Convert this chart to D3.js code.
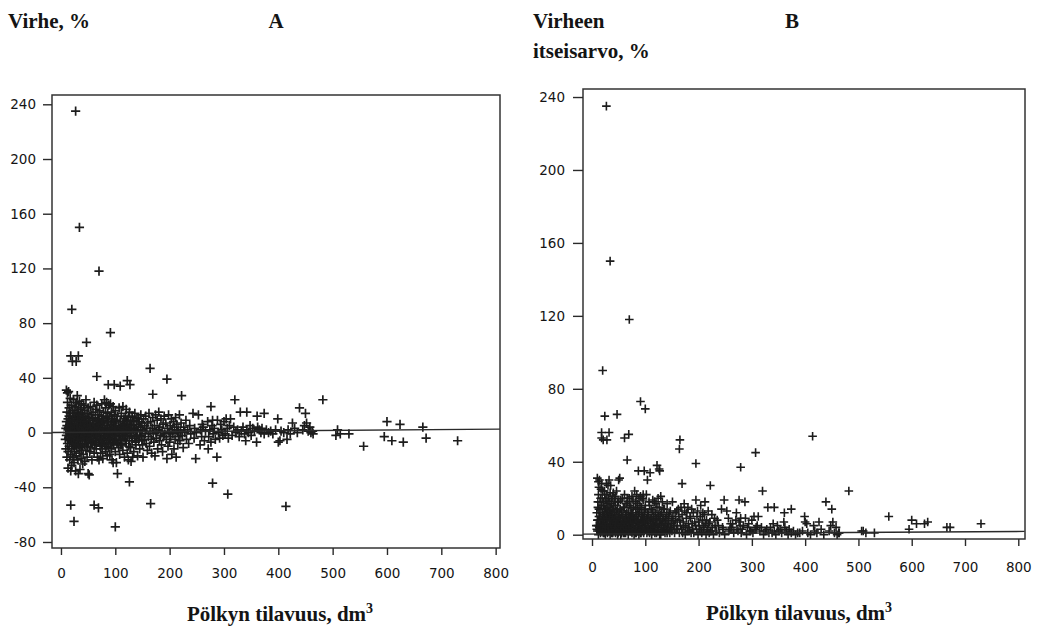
<!DOCTYPE html>
<html><head><meta charset="utf-8">
<script src="https://cdn.jsdelivr.net/npm/d3@7"></script>
<style>body{margin:0;background:#fff}svg{display:block}</style>
</head><body><svg id="chart" width="1051" height="626"></svg>
<script>
// ---------- DATA ----------
const xTickValues = [0, 100, 200, 300, 400, 500, 600, 700, 800];
const yTickValuesA = [-80, -40, 0, 40, 80, 120, 160, 200, 240];
const yTickValuesB = [0, 40, 80, 120, 160, 200, 240];

// [log volume dm3, error %]  (panel B shows the absolute value of the error)
const outliers = [
[27,235],[34,150],[70,118],[20,90],[91,73],[100,-69],[47,66],[24,-65],
[18,56],[21,52],[28,52],[32,56],[18,-53],[61,-53],[69,-55],
[66,41],[87,35],[98,35],[109,34],[104,-30],[122,38],[127,35],
[164,47],[165,-52],[169,28],[195,39],[222,27],[320,24],[482,24],
[279,-37],[307,-45],[414,-54],[126,-36],[276,19],[330,15],[342,15],[361,12],[374,14],[399,10],
[439,18],[450,14],[426,7],[452,7],[458,4],[463,1],[464,-1],[416,-5],[403,-6],
[509,2],[506,-2],[514,-1],[530,-1],[557,-10],[600,8],[624,6],[666,4],[595,-3],[609,-6],[630,-7],[672,-4],[730,-6]
];
const clusterSmall = [
[8,-5],[9,3],[9,-12],[10,8],[10,-2],[10,31],[11,15],[11,-18],[11,5],[12,-8],[12,29],[12,0],[12,22],[13,-14],[13,10],[13,-26],[14,4],[14,-4],[14,30],[15,18],[15,-10],[15,12],[16,-1],[16,-20],[16,7],[17,25],[17,-6],[17,14],[18,-16],[18,2],[18,-28],[19,9],[19,-3],[19,20],[20,-12],[20,6],[20,-24],[21,16],[21,-7],[21,1],[22,11],[22,-18],[22,-2],[23,24],[23,4],[23,-10],[24,-5],[24,14],[24,-22],[25,8],[25,-14],[25,0],[26,19],[26,-8],[26,3],[27,-28],[27,12],[27,-3],[28,6],[28,-17],[28,22],[29,-1],[29,9],[29,-11],[30,15],[30,-6],[30,27],[31,2],[31,-20],[31,10],[32,-9],[32,18],[32,-30],[33,5],[33,-4],[33,13],[34,-15],[34,0],[34,23],[35,8],[35,-11],[35,-27],[36,3],[36,17],[36,-6],[37,-19],[37,11],[37,-1],[38,6],[38,21],[38,-13],[39,-4],[39,14],[39,1],[40,-8],[40,9],[40,-23]
];
const clusterCore = [
[13,2],[15,-3],[17,5],[19,-8],[21,9],[23,-1],[25,4],[27,-9],[29,6],[31,-2],[33,8],[35,-5],[37,2],[39,-10],[41,7],[43,-2],[45,3],[47,-8],[49,1],[51,5],[53,-3],[55,1],[57,-7],[59,6],[61,-1],[63,4],[65,-9],[67,2],[69,9],[71,-5],[73,7],[75,-8],[77,10],[79,-3],[81,1],[83,-10],[85,8],[87,-4],[89,3],[91,-1],[93,8],[95,-7],[97,1],[99,9],[101,5],[103,-8],[105,2],[107,-3],[109,-9],[111,4],[113,-2],[115,8],[117,5],[119,-6],[121,9],[123,4],[125,-10],[127,6],[129,0],[131,-6],[133,8],[135,3],[137,-7],[139,-3],[141,1],[143,10],[145,-2],[147,4],[149,-6]
];
const clusterMid = [
[41,4],[41,-16],[42,12],[42,-3],[42,20],[43,-9],[43,7],[44,-1],[44,16],[44,-21],[45,10],[45,-6],[46,2],[46,-13],[46,24],[47,-4],[47,8],[48,14],[48,-18],[48,0],[49,-10],[49,5],[50,-30],[50,18],[50,-2],[51,11],[51,-7],[52,-31],[52,3],[53,-14],[53,9],[54,0],[54,-5],[54,19],[55,6],[55,-11],[56,13],[56,-2],[57,-20],[57,4],[58,10],[58,-8],[59,1],[59,15],[60,-4],[60,7],[61,-15],[61,22],[62,2],[62,-9],[63,11],[63,-1],[64,-6],[64,17],[65,5],[65,-12],[66,20],[66,-3],[67,8],[67,-18],[68,0],[68,13],[69,-7],[69,4],[70,-20],[70,10],[71,-2],[71,16],[72,6],[72,-10],[73,-15],[73,2],[74,12],[74,-4],[75,-1],[75,21],[76,7],[76,-12],[77,3],[77,-19],[78,15],[78,-6],[79,0],[79,9],[80,-9],[80,24],[81,5],[81,-3],[82,18],[82,-14],[83,1],[83,11],[84,-7],[84,22],[85,4],[85,-17],[86,14],[86,-2],[87,8],[87,-11],[88,20],[88,0],[89,-5],[89,12],[90,2],[90,-16],[91,21],[91,-8],[92,6],[92,-1],[93,-12],[93,15],[94,3],[94,-20],[95,10],[95,-4],[96,19],[96,-22],[97,-9],[97,7],[98,13],[98,-2],[99,-6],[99,4],[100,16],[100,-14]
];
const clusterUpper = [
[101,-3],[102,9],[102,-22],[103,1],[104,12],[105,-7],[106,5],[106,-11],[107,18],[108,-1],[108,-16],[109,8],[110,-5],[110,3],[111,14],[112,-9],[112,0],[113,6],[114,-13],[114,19],[115,2],[116,-4],[116,10],[117,-18],[118,4],[118,-1],[119,12],[120,-8],[120,17],[121,1],[122,-15],[122,7],[123,-3],[124,11],[124,-20],[125,3],[126,-6],[126,15],[127,0],[128,-11],[128,8],[129,-21],[130,5],[130,-2],[131,12],[132,-18],[133,2],[134,-14],[134,9],[135,-4],[136,14],[137,1],[138,-9],[139,6],[140,-2],[140,11],[141,-17],[142,4],[143,-6],[144,8],[145,-12],[146,1],[147,13],[148,-3],[149,7],[150,-9],[150,2],[151,-18],[152,10],[153,-5],[154,5],[155,-1],[156,12],[157,-8],[158,3],[159,-13],[160,7],
[161,-3],[162,14],[163,-10],[164,1],[165,8],[166,-5],[167,-15],[168,3],[169,11],[170,-1],[171,-7],[172,5],[173,-17],[174,13],[175,0],[176,-4],[177,9],[178,-12],[179,2],[180,15],[181,-6],[182,4],[183,-2],[184,10],[185,-9],[186,1],[187,-14],[188,6],[189,-3],[190,12],[191,-1],[195,-19],[193,7],[194,-5],[196,3],[197,-10],[198,13],[199,0],[200,-7],[201,5],[202,-3],[203,10],[204,-16],[205,2],[206,-1],[207,8],[208,-12],[209,4],[210,-5],[211,11],[212,-18],[213,6],[214,0],[215,-8],[216,2],[217,-3],[218,13],[219,-6],[220,1],[221,7],[223,-2],[225,-11],[226,4],[228,0],[230,9],[231,-5],[233,2],[235,-8],[237,5],[239,-1],[243,14],[245,-4],[246,3],[248,-19],[249,0],[253,13],[256,-9],[257,2],[259,-3],[260,6]
];
const clusterTail = [
[262,4],[264,-6],[266,1],[271,-12],[270,8],[272,-3],[274,2],[276,-7],[278,5],[280,-1],[279,9],[282,3],[284,-5],[287,-18],[288,9],[290,0],[292,-4],[294,6],[296,2],[298,-2],[300,8],[302,-1],[304,10],[306,3],[308,-4],[310,5],[312,10],[315,-2],[318,4],[322,0],[325,2],[328,-3],[332,1],[335,4],[338,-1],[340,-6],[342,2],[345,0],[348,5],[350,-2],[353,3],[356,1],[360,-7],[362,4],[365,2],[368,0],[370,3],[374,-1],[378,2],[382,0],[386,1],[390,-1],[395,2],[400,-7],[405,1],[410,0],[418,2],[422,-1],[430,3],[435,0],[445,2],[448,5],[455,1],[460,0]
];
// fitted mean-error lines [volume, %]
const fitLineA = [[-16.5, 0.0], [808, 2.5]];
const fitLineB = [[-17, 0.3], [812, 1.8]];

const observations = outliers.concat(clusterSmall, clusterCore, clusterMid, clusterUpper, clusterTail);

// ---------- LAYOUT ----------
const svg = d3.select("#chart");
const serif = "'Liberation Serif','Times New Roman',serif";
const sans = "'DejaVu Sans',sans-serif";
const ink = "#141414";

const panels = [
  { key:"A", left:52, right:500, top:95, bottom:548, xDomain:[-16.5,808], yDomain:[-84.4,246.8],
    yTicks:yTickValuesA, yTickSize:9, yPad:7, xTickSize:7, xPad:13, marker:4.6, mw:1.7,
    values: observations.map(d => [d[0], d[1]]), fit: fitLineA,
    titleX:280, titleY:621 },
  { key:"B", left:583, right:1025, top:89, bottom:539, xDomain:[-16.9,812.6], yDomain:[-2.36,244.4],
    yTicks:yTickValuesB, yTickSize:10, yPad:8, xTickSize:7, xPad:16, marker:4.3, mw:1.6,
    values: observations.map(d => [d[0], Math.abs(d[1])]), fit: fitLineB,
    titleX:799, titleY:620 }
];

panels.forEach(p => {
  const x = d3.scaleLinear().domain(p.xDomain).range([p.left, p.right]);
  const y = d3.scaleLinear().domain(p.yDomain).range([p.bottom, p.top]);
  const g = svg.append("g");

  // markers
  const s = p.marker;
  g.append("g").selectAll("path").data(p.values).join("path")
    .attr("d", d => { const px = x(d[0]), py = y(d[1]);
      return `M${px-s},${py}H${px+s}M${px},${py-s}V${py+s}`; })
    .attr("stroke", "#1c1c1c").attr("stroke-width", p.mw).attr("fill", "none");

  // fitted line
  g.append("path").datum(p.fit)
    .attr("d", d3.line().x(d => x(d[0])).y(d => y(d[1])))
    .attr("stroke", "#2a2a2a").attr("stroke-width", 1.4).attr("fill", "none");

  // frame
  g.append("rect").attr("x", p.left).attr("y", p.top)
    .attr("width", p.right - p.left).attr("height", p.bottom - p.top)
    .attr("fill", "none").attr("stroke", "#333").attr("stroke-width", 1.5);

  // axes
  const ya = g.append("g").attr("transform", `translate(${p.left},0)`)
    .call(d3.axisLeft(y).tickValues(p.yTicks).tickSize(p.yTickSize).tickPadding(p.yPad).tickFormat(d => String(d)));
  const xa = g.append("g").attr("transform", `translate(0,${p.bottom})`)
    .call(d3.axisBottom(x).tickValues(xTickValues).tickSize(p.xTickSize).tickPadding(p.xPad).tickFormat(d => String(d)));
  [ya, xa].forEach(a => {
    a.select(".domain").remove();
    a.selectAll(".tick line").attr("stroke", "#2a2a2a").attr("stroke-width", 1.4);
    a.selectAll(".tick text").attr("fill", ink).style("font-family", sans).style("font-size", "13.5px");
  });

  // x-axis title with superscript
  const t = svg.append("text").attr("x", p.titleX).attr("y", p.titleY)
    .attr("text-anchor", "middle").attr("fill", ink)
    .style("font-family", serif).style("font-weight", "bold").style("font-size", "21px");
  t.append("tspan").text("Pölkyn tilavuus, dm");
  t.append("tspan").attr("dy", -8).style("font-size", "14px").text("3");
});

// header labels
const headers = [
  { text:"Virhe, %", x:8, y:28, anchor:"start" },
  { text:"A", x:276, y:28, anchor:"middle" },
  { text:"Virheen", x:533, y:28, anchor:"start" },
  { text:"itseisarvo, %", x:533, y:58, anchor:"start" },
  { text:"B", x:792, y:28, anchor:"middle" }
];
svg.selectAll("text.hdr").data(headers).join("text").attr("class", "hdr")
  .attr("x", d => d.x).attr("y", d => d.y).attr("text-anchor", d => d.anchor)
  .attr("fill", ink).style("font-family", serif).style("font-weight", "bold").style("font-size", "21px")
  .text(d => d.text);
</script>
</body></html>
